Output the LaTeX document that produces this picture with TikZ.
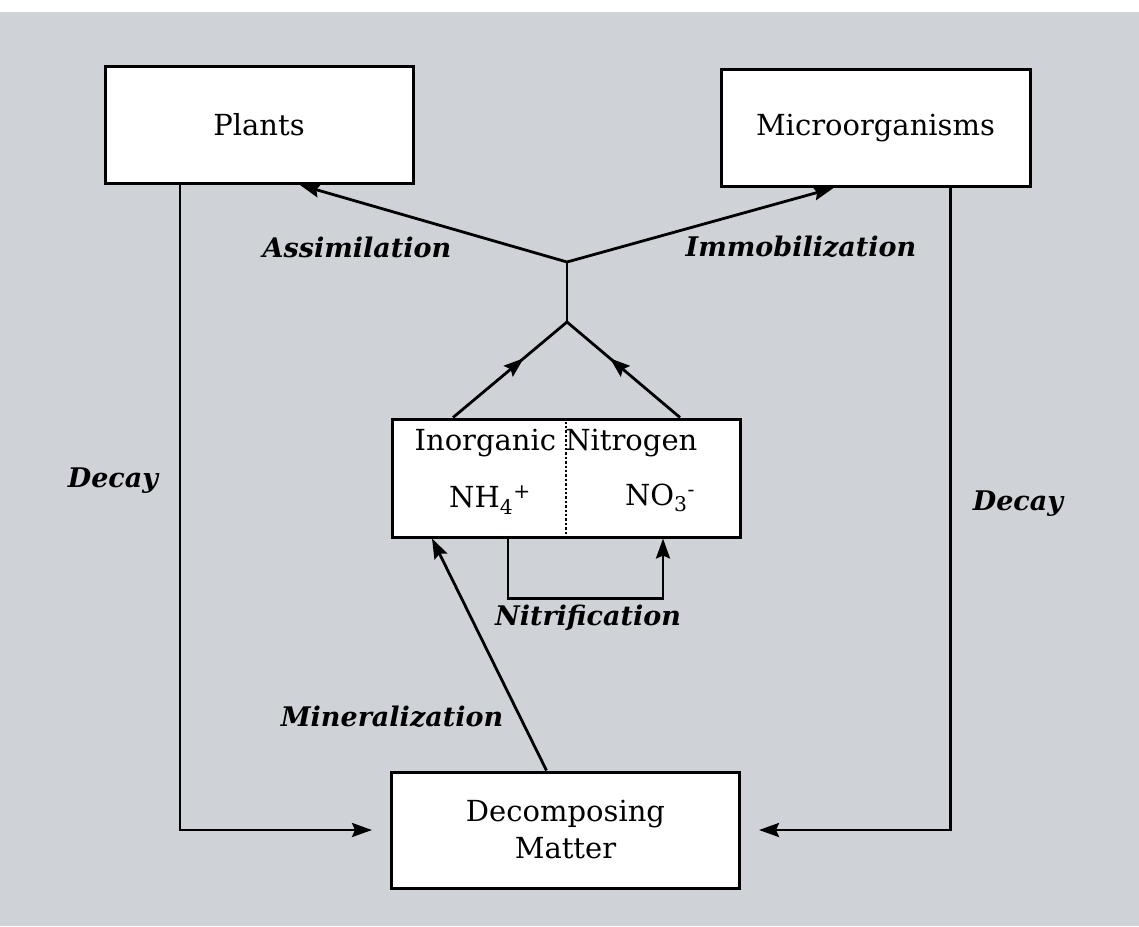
\documentclass[tikz,border=0pt]{standalone}
\usepackage{fontspec}
\setmainfont{DejaVu Serif}
\usetikzlibrary{arrows.meta}
\usetikzlibrary{calc}
\usetikzlibrary{decorations.markings}
\definecolor{paper}{RGB}{207,211,216}
\tikzset{box/.style={rectangle, draw, fill=white, line width=3pt, inner sep=0pt, align=center, font=\fontsize{29}{37}\selectfont}}
\tikzset{flow/.style={line width=2.8pt, -{Stealth[length=20pt,width=14pt,inset=3pt]}}}
\tikzset{midarrow/.style={line width=2.8pt, postaction={decorate},
    decoration={markings, mark=at position 0.62 with {\arrow{Stealth[length=20pt,width=14pt,inset=3pt]}}}}}
\tikzset{proc/.style={font=\fontsize{27}{34}\selectfont\bfseries\itshape}}

\begin{document}
\begin{tikzpicture}[x=1pt,y=-1pt]
  \fill[white] (0,0) rectangle (1139,924);
  \fill[paper] (0,12) rectangle (1139,926);
  \useasboundingbox (0,0) rectangle (1139,924);

  \node[box, minimum width=308, minimum height=117] (plants) at (259,125) {Plants};
  \node[box, minimum width=309, minimum height=117] (micro) at (875.5,128) {Microorganisms};
  \node[box, minimum width=348, minimum height=118] (inorg) at (566,478) {};
  \node[box, minimum width=348, minimum height=116] (decomp) at (565.5,830) {Decomposing\\Matter};

  \node[font=\fontsize{29}{37}\selectfont] (ntitle) at (556,443) {Inorganic Nitrogen};
  \node[font=\fontsize{29}{37}\selectfont] (ammon) at (490,500) {NH\textsubscript{4}\textsuperscript{+}};
  \node[font=\fontsize{29}{37}\selectfont] (nitrate) at (660,498) {NO\textsubscript{3}\textsuperscript{-}};
  \draw[dotted, line width=2.4pt, shorten <=4pt, shorten >=4pt] (inorg.north) -- (inorg.south);

  \coordinate (fork) at (567,262);
  \coordinate (merge) at (567,322);

  % uptake
  \draw[flow] (fork) -- ([xshift=41]plants.south);
  \draw[flow] (fork) -- ([xshift=-42]micro.south);
  \draw[line width=2.8pt] (fork) -- (merge);
  \foreach \dx in {-113,114} {
    \draw[midarrow] ([xshift=\dx]inorg.north) -- (merge);
  }

  % decay
  \draw[flow, shorten >=18pt] ([xshift=-79]plants.south) |- (decomp.west);
  \draw[flow, shorten >=18pt] ([xshift=75]micro.south) |- (decomp.east);

  % nitrification and mineralization
  \draw[flow] ([xshift=-58]inorg.south) -- ++(0,60) -| ([xshift=97]inorg.south);
  \draw[flow] ([xshift=-19]decomp.north) -- ([xshift=-134]inorg.south);

  \node[proc] (assim) at (357,247) {Assimilation};
  \node[proc] (immob) at (801,247) {Immobilization};
  \node[proc] (decayl) at (113,481) {Decay};
  \node[proc] (decayr) at (1018,504) {Decay};
  \node[proc] (nitrif) at (588,618) {Nitrification};
  \node[proc] (miner) at (392,717) {Mineralization};
\end{tikzpicture}
\end{document}
